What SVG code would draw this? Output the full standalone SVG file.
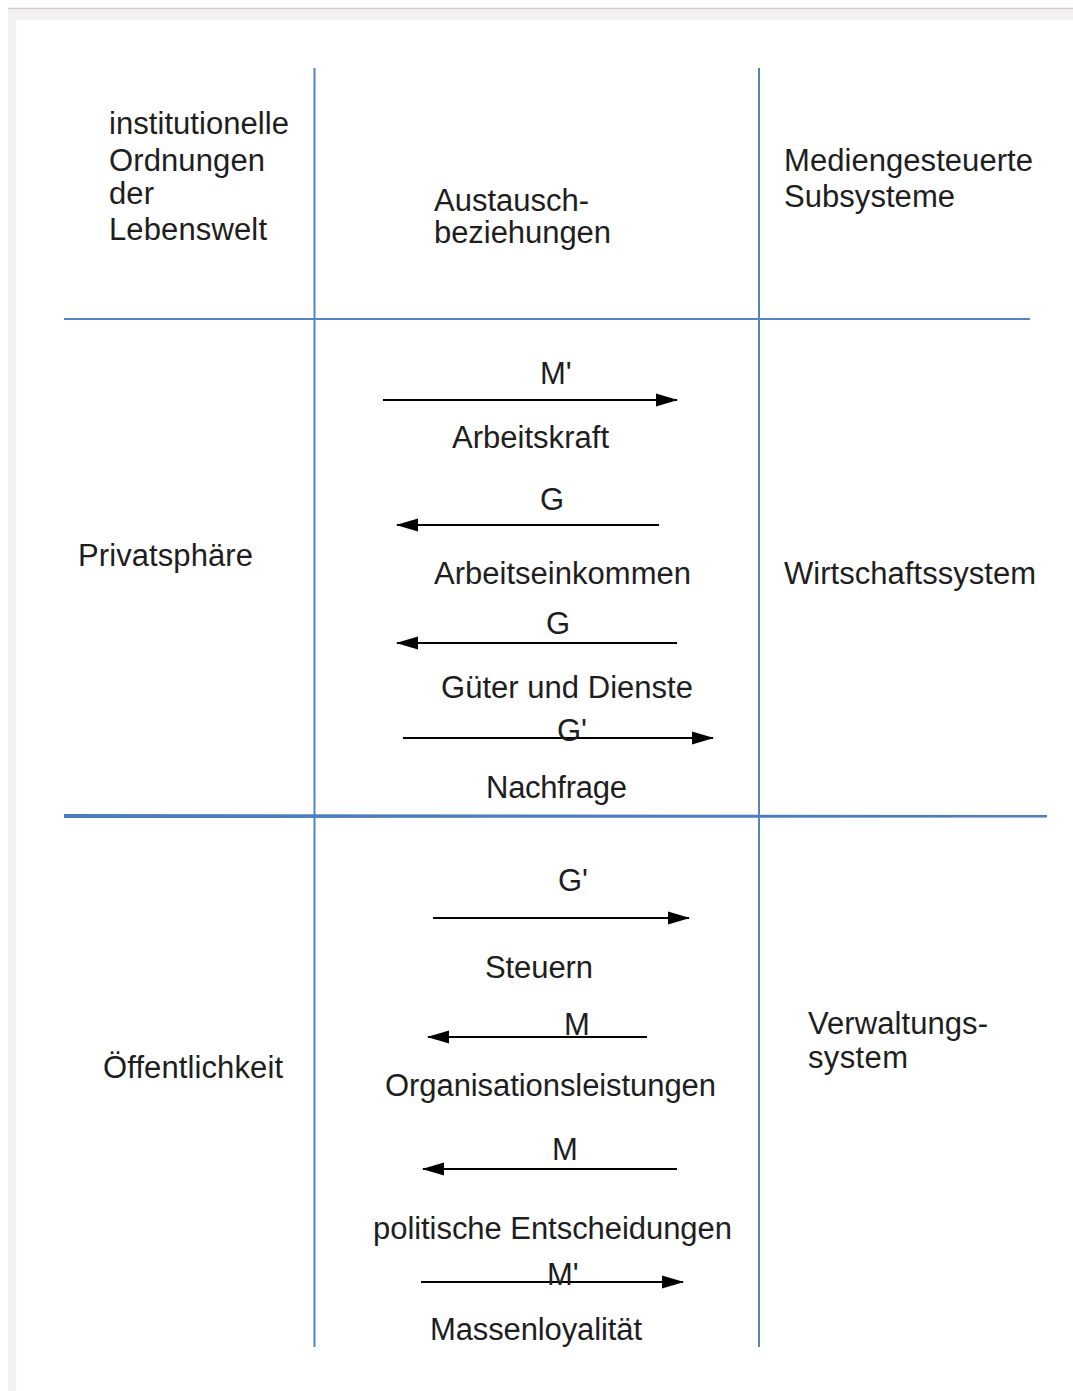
<svg xmlns="http://www.w3.org/2000/svg" width="1073" height="1391" viewBox="0 0 1073 1391">
<style>
.t{font-family:"Liberation Sans",Arial,sans-serif;font-size:31px;fill:#1e1e1e}
.grid{stroke:#5583c0;stroke-width:2;fill:none}
.arr{stroke:#000;stroke-width:2;fill:none;marker-end:url(#ah)}
</style>
<defs>
<marker id="ah" viewBox="0 0 22 14" refX="21" refY="7" markerWidth="22" markerHeight="14" markerUnits="userSpaceOnUse" orient="auto">
<path d="M0,0.5 L22,7 L0,13.5 Z" fill="#000"/>
</marker>
</defs>
<rect width="1073" height="1391" fill="#fff"/>
<rect x="8" y="9" width="1065" height="11" fill="#f2f1ef"/>
<rect x="8" y="9" width="8" height="1382" fill="#f2f1ef"/>
<line x1="8" y1="8.5" x2="1073" y2="8.5" stroke="#d2cfcb" stroke-width="1.5"/>

<g id="grid">
<line class="grid" x1="314.5" y1="68" x2="314.5" y2="1347"/>
<line class="grid" x1="759" y1="68" x2="759" y2="1347"/>
<line class="grid" x1="64" y1="319" x2="1030" y2="319"/>
<polygon points="64,814 1047,815 1047,817.5 64,818" fill="#4e7dbd"/>
</g>

<g id="header-left">
<text class="t" x="109" y="134" textLength="180">institutionelle</text>
<text class="t" x="109" y="171" textLength="156">Ordnungen</text>
<text class="t" x="109" y="204" textLength="45">der</text>
<text class="t" x="109" y="240" textLength="158">Lebenswelt</text>
</g>
<g id="header-mid">
<text class="t" x="434" y="211" textLength="155">Austausch-</text>
<text class="t" x="434" y="243" textLength="177">beziehungen</text>
</g>
<g id="header-right">
<text class="t" x="784" y="171" textLength="249">Mediengesteuerte</text>
<text class="t" x="784" y="207" textLength="171">Subsysteme</text>
</g>
<g id="privatsphaere"><text class="t" x="78" y="566" textLength="175">Privatsphäre</text></g>
<g id="wirtschaftssystem"><text class="t" x="784" y="584" textLength="252">Wirtschaftssystem</text></g>
<g id="oeffentlichkeit"><text class="t" x="103" y="1078" textLength="180">Öffentlichkeit</text></g>
<g id="verwaltungssystem">
<text class="t" x="808" y="1034" textLength="180">Verwaltungs-</text>
<text class="t" x="808" y="1068" textLength="100">system</text>
</g>

<g id="connectors">
<line class="arr" x1="383" y1="400" x2="677" y2="400"/>
<line class="arr" x1="659" y1="525" x2="397" y2="525"/>
<line class="arr" x1="677" y1="643" x2="397" y2="643"/>
<line class="arr" x1="403" y1="738" x2="713" y2="738"/>
<line class="arr" x1="433" y1="918" x2="689" y2="918"/>
<line class="arr" x1="647" y1="1037" x2="428" y2="1037"/>
<line class="arr" x1="677" y1="1169" x2="423" y2="1169"/>
<line class="arr" x1="421" y1="1282" x2="683" y2="1282"/>
</g>

<g id="labels">
<text class="t" x="540" y="384">M'</text>
<text class="t" x="452" y="448" textLength="157">Arbeitskraft</text>
<text class="t" x="540" y="510">G</text>
<text class="t" x="434" y="584" textLength="257">Arbeitseinkommen</text>
<text class="t" x="546" y="634">G</text>
<text class="t" x="441" y="698" textLength="252">Güter und Dienste</text>
<text class="t" x="557" y="741">G'</text>
<text class="t" x="486" y="798" textLength="141">Nachfrage</text>
<text class="t" x="558" y="891">G'</text>
<text class="t" x="485" y="978" textLength="108">Steuern</text>
<text class="t" x="564" y="1035">M</text>
<text class="t" x="385" y="1096" textLength="331">Organisationsleistungen</text>
<text class="t" x="552" y="1160">M</text>
<text class="t" x="373" y="1239" textLength="359">politische Entscheidungen</text>
<text class="t" x="547" y="1285">M'</text>
<text class="t" x="430" y="1340" textLength="212">Massenloyalität</text>
</g>
</svg>
